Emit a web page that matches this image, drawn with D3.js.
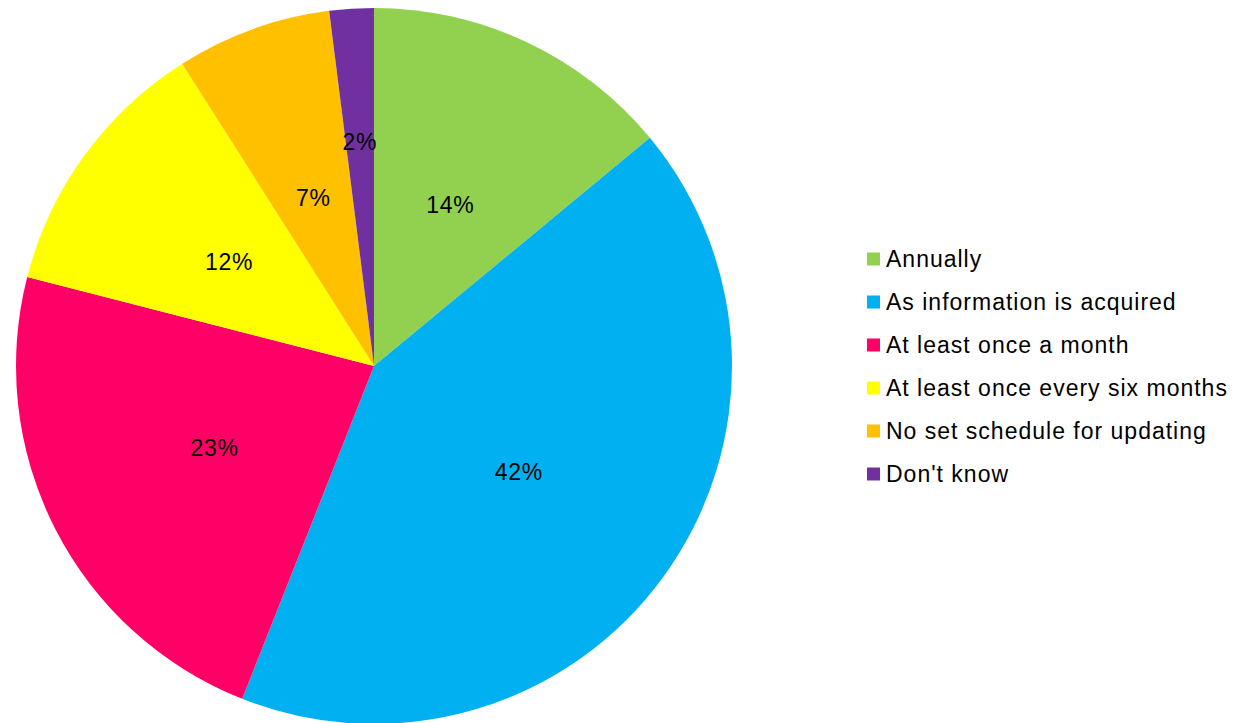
<!DOCTYPE html>
<html>
<head>
<meta charset="utf-8">
<script src="https://cdn.jsdelivr.net/npm/d3@7"></script>
<style>
  html, body { margin: 0; padding: 0; background: #fff; }
  svg { display: block; font-family: Arial, "Liberation Sans", sans-serif; }
</style>
</head>
<body>
<svg id="chart" width="1234" height="723"></svg>
<script>
// Update frequency responses (percent of respondents)
const categories = [
  "Annually",
  "As information is acquired",
  "At least once a month",
  "At least once every six months",
  "No set schedule for updating",
  "Don't know"
];
const values = [14, 42, 23, 12, 7, 2];
const colors = ["#92D050", "#00B0F0", "#FF0066", "#FFFF00", "#FFC000", "#7030A0"];

const svg = d3.select("#chart");
const cx = 374, cy = 366, R = 358;

const data = categories.map((c, i) => ({ name: c, value: values[i], color: colors[i] }));

const pie = d3.pie().value(d => d.value).sort(null);
const arcs = pie(data);
const arc = d3.arc().innerRadius(0).outerRadius(R);

const g = svg.append("g").attr("transform", `translate(${cx},${cy})`);

g.selectAll("path.slice")
  .data(arcs)
  .join("path")
  .attr("class", "slice")
  .attr("d", arc)
  .attr("fill", d => d.data.color);

// Labels sit halfway out; very thin slices get pushed further out
const labelArc = d => {
  const span = d.endAngle - d.startAngle;
  const r = span < 0.2 ? R * 0.63 : R * 0.5;
  return d3.arc().innerRadius(r).outerRadius(r);
};

g.selectAll("text.pct")
  .data(arcs)
  .join("text")
  .attr("class", "pct")
  .attr("transform", d => `translate(${labelArc(d).centroid(d)})`)
  .attr("text-anchor", "middle")
  .attr("dy", "0.38em")
  .attr("font-size", 23)
  .attr("letter-spacing", 0.7)
  .attr("fill", "#000")
  .text(d => d.data.value + "%");

// Legend
const legendX = 867, legendY0 = 259, legendStep = 43;
const legend = svg.append("g");
const rows = legend.selectAll("g.row")
  .data(data)
  .join("g")
  .attr("class", "row")
  .attr("transform", (d, i) => `translate(${legendX},${legendY0 + i * legendStep})`);

rows.append("rect")
  .attr("x", 0).attr("y", -6.5)
  .attr("width", 13).attr("height", 13)
  .attr("fill", d => d.color);

rows.append("text")
  .attr("x", 19)
  .attr("dy", "0.35em")
  .attr("font-size", 23)
  .attr("letter-spacing", 1)
  .attr("fill", "#000")
  .text(d => d.name);
</script>
</body>
</html>
